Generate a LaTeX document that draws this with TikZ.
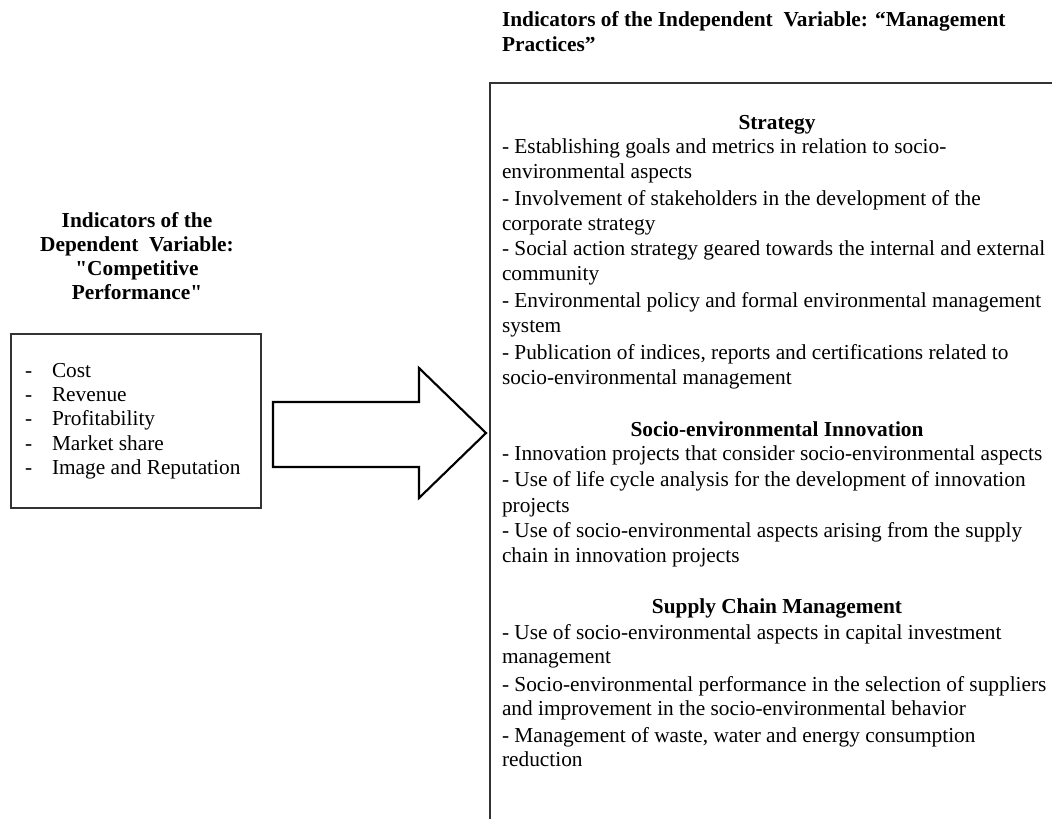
\documentclass[tikz,border=0pt]{standalone}
\usepackage{fontspec}
\setmainfont{Liberation Serif}[Ligatures=TeXOff]
\begin{document}
\begin{tikzpicture}[x=0.75pt,y=-0.75pt,
  every node/.style={inner sep=0pt, outer sep=0pt},
  body/.style={anchor=base west, font=\fontsize{16}{19}\selectfont},
  head/.style={anchor=base, font=\fontsize{16}{19}\selectfont\bfseries},
  title/.style={anchor=base west, font=\fontsize{16}{19}\selectfont\bfseries},
  boxline/.style={draw=black!80, line width=1.3pt},
  arrowline/.style={draw=black, line width=1.6pt, fill=white, line join=miter}]
\useasboundingbox (0,0) rectangle (1052,819);

% top title
\node[title] (t1) at (502,26) {Indicators of the Independent\ \ Variable: “Management};
\node[title] (t2) at (502,51) {Practices”};

% left title
\node[head] (l1) at (137,227) {Indicators of the};
\node[head] (l2) at (137,251) {Dependent\ \ Variable:};
\node[head] (l3) at (137,275) {"Competitive};
\node[head] (l4) at (137,299) {Performance"};

% left box
\node[boxline, draw, minimum width=187.5pt, minimum height=130.5pt] (lbox) at (136,421) {};
\node[body] (d1) at (25,377) {-};
\node[body] (i1) at (52,377) {Cost};
\node[body] (d2) at (25,401) {-};
\node[body] (i2) at (52,401) {Revenue};
\node[body] (d3) at (25,425) {-};
\node[body] (i3) at (52,425) {Profitability};
\node[body] (d4) at (25,450) {-};
\node[body] (i4) at (52,450) {Market share};
\node[body] (d5) at (25,474) {-};
\node[body] (i5) at (52,474) {Image and Reputation};

% block arrow
\draw[arrowline] (273,402) -- (419,402) -- (419,368) -- (486,433) -- (419,498) -- (419,467) -- (273,467) -- cycle;

% right box (cut by the picture edge)
\coordinate (rTR) at (1052,83);
\coordinate (rTL) at (490,83);
\coordinate (rBL) at (490,819);
\draw[boxline] (rTR) -- (rTL) -- (rBL);

% Strategy
\node[head] (h1) at (777,129) {Strategy};
\node[body] (s1) at (502,153) {- Establishing goals and metrics in relation to socio-};
\node[body] (s2) at (502,178) {environmental aspects};
\node[body] (s3) at (502,205) {- Involvement of stakeholders in the development of the};
\node[body] (s4) at (502,230) {corporate strategy};
\node[body] (s5) at (502,255) {- Social action strategy geared towards the internal and external};
\node[body] (s6) at (502,280) {community};
\node[body] (s7) at (502,307) {- Environmental policy and formal environmental management};
\node[body] (s8) at (502,332) {system};
\node[body] (s9) at (502,359) {- Publication of indices, reports and certifications related to};
\node[body] (s10) at (502,384) {socio-environmental management};

% Innovation
\node[head] (h2) at (777,436) {Socio-environmental Innovation};
\node[body] (n1) at (502,460) {- Innovation projects that consider socio-environmental aspects};
\node[body] (n2) at (502,486) {- Use of life cycle analysis for the development of innovation};
\node[body] (n3) at (502,512) {projects};
\node[body] (n4) at (502,537) {- Use of socio-environmental aspects arising\ from the supply};
\node[body] (n5) at (502,562) {chain in innovation projects};

% Supply chain
\node[head] (h3) at (777,613) {Supply Chain Management};
\node[body] (c1) at (502,639) {- Use of socio-environmental aspects in capital investment};
\node[body] (c2) at (502,663) {management};
\node[body] (c3) at (502,691) {- Socio-environmental performance in the selection of suppliers};
\node[body] (c4) at (502,715) {and improvement in the socio-environmental behavior};
\node[body] (c5) at (502,742) {- Management of waste, water and energy consumption};
\node[body] (c6) at (502,766) {reduction};
\end{tikzpicture}
\end{document}
